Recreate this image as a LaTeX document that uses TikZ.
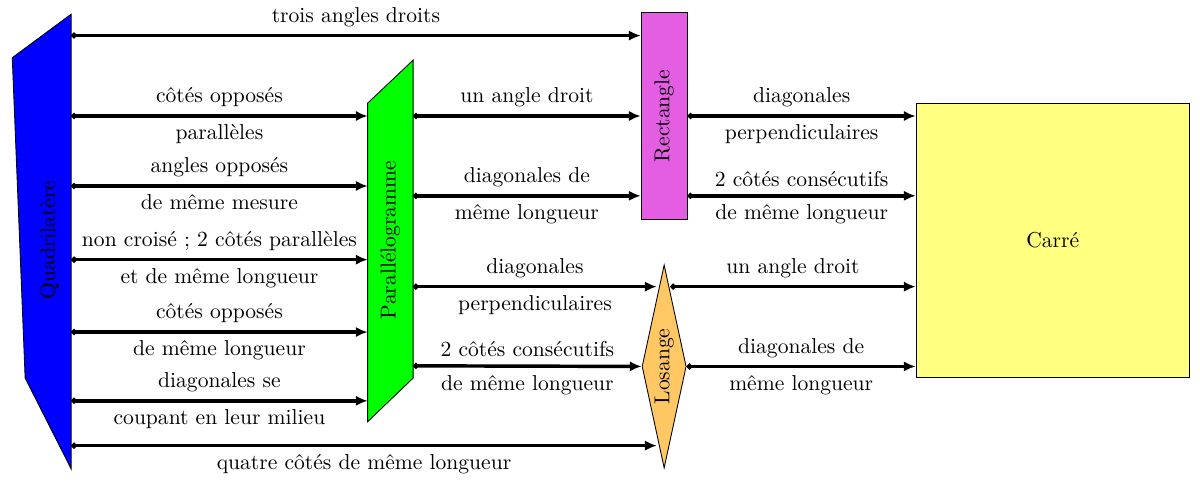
\documentclass[tikz,border=0pt]{standalone}
\usepackage{graphicx}
\usepackage{tikz}
\usetikzlibrary{arrows.meta}
\usetikzlibrary{shapes.geometric}

\definecolor{rectcol}{RGB}{227,94,227}
\definecolor{loscol}{RGB}{255,200,100}
\definecolor{carcol}{RGB}{255,255,128}

\begin{document}
\begin{tikzpicture}[fleche/.style={line width=1.6pt,{Circle[length=2.6pt]}-{Latex[length=5.5pt,width=4.8pt]}},
		boite/.style={draw,inner sep=0pt}]
	\useasboundingbox (0,0) rectangle (19.55,7.85);
	% les figures
	\filldraw[fill=blue] (0.20,6.91) -- (1.16,7.62) -- (1.16,0.21) -- (0.41,1.69) -- cycle;
	\node[rotate=90] (quad) at (0.81,3.94) {Quadrilatère};
	\filldraw[fill=green] (5.99,6.17) -- (6.73,6.87) -- (6.73,1.69) -- (5.99,0.98) -- cycle;
	\node[rotate=90] (para) at (6.36,3.94) {Parallélogramme};
	\node[boite,fill=rectcol,minimum width=0.75cm,minimum height=3.36cm] (rect) at (10.82,5.96) {\rotatebox{90}{Rectangle}};
	\node[boite,diamond,aspect=0.22,fill=loscol,minimum width=0.72cm,minimum height=3.31cm] (los) at (10.82,1.88) {\rotatebox{90}{Losange}};
	\node[boite,fill=carcol,minimum width=4.45cm,minimum height=4.46cm] (carre) at (17.15,3.93) {Carré};
	% points de depart et d'arrivee
	\coordinate (q1) at (1.16,7.27);
	\coordinate (q2) at (1.16,5.96);
	\coordinate (q3) at (1.16,4.82);
	\coordinate (q4) at (1.16,3.62);
	\coordinate (q5) at (1.16,2.44);
	\coordinate (q6) at (1.16,1.32);
	\coordinate (q7) at (1.16,0.59);
	\coordinate (pg) at (5.99,0);
	\coordinate (p1) at (6.73,5.96);
	\coordinate (p2) at (6.73,4.66);
	\coordinate (p3) at (6.73,3.18);
	\coordinate (p4) at (6.73,1.89);
	\coordinate (l1) at (10.70,3.18);
	\coordinate (l2) at (10.70,0.59);
	\coordinate (l3) at (10.92,3.18);
	% quadrilatere
	\draw[fleche] (q1) -- (q1 -| rect.west) node[midway,above] {trois angles droits};
	\draw[fleche] (q2) -- (q2 -| pg) node[midway,above] {côtés opposés} node[midway,below] {parallèles};
	\draw[fleche] (q3) -- (q3 -| pg) node[midway,above] {angles opposés} node[midway,below] {de même mesure};
	\draw[fleche] (q4) -- (q4 -| pg) node[midway,above] {non croisé ; 2 côtés parallèles} node[midway,below] {et de même longueur};
	\draw[fleche] (q5) -- (q5 -| pg) node[midway,above] {côtés opposés} node[midway,below] {de même longueur};
	\draw[fleche] (q6) -- (q6 -| pg) node[midway,above] {diagonales se} node[midway,below] {coupant en leur milieu};
	\draw[fleche] (q7) -- (l2) node[midway,below] {quatre côtés de même longueur};
	% parallelogramme
	\draw[fleche] (p1) -- (p1 -| rect.west) node[midway,above] {un angle droit};
	\draw[fleche] (p2) -- (p2 -| rect.west) node[midway,above] {diagonales de} node[midway,below] {même longueur};
	\draw[fleche] (p3) -- (l1) node[midway,above] {diagonales} node[midway,below] {perpendiculaires};
	\draw[fleche] (p4) -- (los.west) node[midway,above] {2 côtés consécutifs} node[midway,below] {de même longueur};
	% rectangle et losange
	\draw[fleche] (p1 -| rect.east) -- (p1 -| carre.west) node[midway,above] {diagonales} node[midway,below] {perpendiculaires};
	\draw[fleche] (p2 -| rect.east) -- (p2 -| carre.west) node[midway,above] {2 côtés consécutifs} node[midway,below] {de même longueur};
	\draw[fleche] (l3) -- (l3 -| carre.west) node[midway,above] {un angle droit};
	\draw[fleche] (los.east) -- (los.east -| carre.west) node[midway,above] {diagonales de} node[midway,below] {même longueur};
\end{tikzpicture}
\end{document}
